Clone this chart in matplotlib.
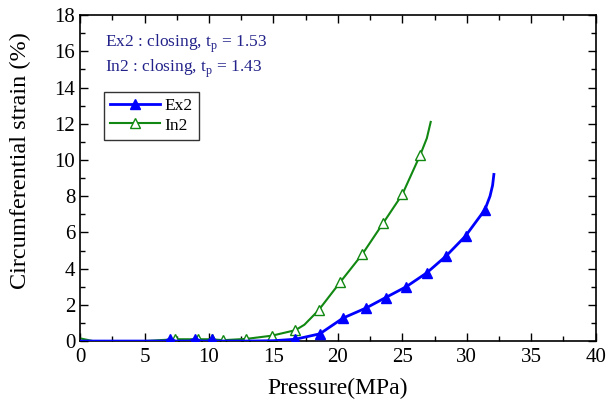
import matplotlib
matplotlib.use("Agg")
import matplotlib.pyplot as plt
from matplotlib.ticker import MultipleLocator
from matplotlib.lines import Line2D

# Ex2 curve (pressure MPa, strain %)
ex2_x = [0, 5, 6.6, 7.0, 7.4, 8.5, 8.9, 9.4, 9.9, 10.2, 10.6, 11.5, 13.0, 15.0, 16.7, 18.6, 20.4, 22.2, 23.7, 25.3, 26.9, 28.4, 29.9, 31.4, 31.8, 32.0, 32.1]
ex2_y = [0.0, 0.0, 0.0, 0.12, 0.0, 0.0, 0.12, 0.0, 0.0, 0.12, 0.0, 0.0, 0.0, 0.02, 0.1, 0.4, 1.27, 1.83, 2.4, 3.0, 3.77, 4.7, 5.8, 7.25, 8.0, 8.6, 9.2]
ex2_marks = [3, 6, 9, 14, 15, 16, 17, 18, 19, 20, 21, 22, 23]

# In2 curve
in2_x = [0, 1.0, 5.0, 7.4, 9.15, 10.2, 11.1, 12.9, 14.9, 16.7, 17.4, 18.5, 20.2, 21.9, 23.5, 25.0, 26.4, 26.9, 27.2]
in2_y = [0.15, 0.0, 0.0, 0.1, 0.1, 0.1, 0.05, 0.12, 0.3, 0.6, 0.9, 1.7, 3.27, 4.8, 6.5, 8.1, 10.3, 11.2, 12.1]
in2_marks = [3, 4, 5, 6, 7, 8, 9, 11, 12, 13, 14, 15, 16]

plt.rcParams['font.family'] = ['Liberation Serif', 'DejaVu Serif']

fig = plt.figure(figsize=(6.11, 4.07), dpi=100)
ax = fig.add_axes([0.131, 0.162, 0.844, 0.801])

blue = '#0000ff'
green = '#118811'
ax.plot(ex2_x, ex2_y, color=blue, lw=2.0, marker='^', ms=7.5, mfc=blue, mec=blue,
        markevery=ex2_marks, zorder=3)
ax.plot(in2_x, in2_y, color=green, lw=1.5, marker='^', ms=7.5, mfc='white', mec=green,
        markevery=in2_marks, zorder=2)

ax.set_xlim(0, 40)
ax.set_ylim(0, 18)
ax.xaxis.set_major_locator(MultipleLocator(5))
ax.xaxis.set_minor_locator(MultipleLocator(2.5))
ax.yaxis.set_major_locator(MultipleLocator(2))
ax.yaxis.set_minor_locator(MultipleLocator(1))
ax.tick_params(which='both', direction='in', top=True, right=True, labelsize=15)
ax.tick_params(which='major', length=6, width=1)
ax.tick_params(axis='x', which='major', pad=5)
ax.tick_params(which='minor', length=3.5, width=1)
for s in ax.spines.values():
    s.set_linewidth(1.2)

ax.set_xlabel('Pressure(MPa)', fontsize=17)
ax.xaxis.set_label_coords(0.5, -0.112)
ax.set_ylabel('Circumferential strain (%)', fontsize=17.5)
ax.yaxis.set_label_coords(-0.095, 0.555)

navy = '#22228a'
ax.text(0.048, 0.91, r'Ex2 : closing, t$_\mathregular{p}$ = 1.53', transform=ax.transAxes,
        fontsize=12.5, color=navy, va='center')
ax.text(0.048, 0.836, r'In2 : closing, t$_\mathregular{p}$ = 1.43', transform=ax.transAxes,
        fontsize=12.5, color=navy, va='center')

h1 = Line2D([], [], color=blue, lw=2.0, marker='^', ms=7.5, mfc=blue, mec=blue)
h2 = Line2D([], [], color=green, lw=1.5, marker='^', ms=7.5, mfc='white', mec=green)
leg = ax.legend([h1, h2], ['Ex2', 'In2'], loc='upper left', bbox_to_anchor=(0.046, 0.765),
                fontsize=12.5, frameon=True, fancybox=False, edgecolor='black',
                handlelength=2.9, borderpad=0.35, labelspacing=0.2, handletextpad=0.25,
                borderaxespad=0)
leg.get_frame().set_linewidth(1.0)

fig.savefig('out.png', dpi=100)
